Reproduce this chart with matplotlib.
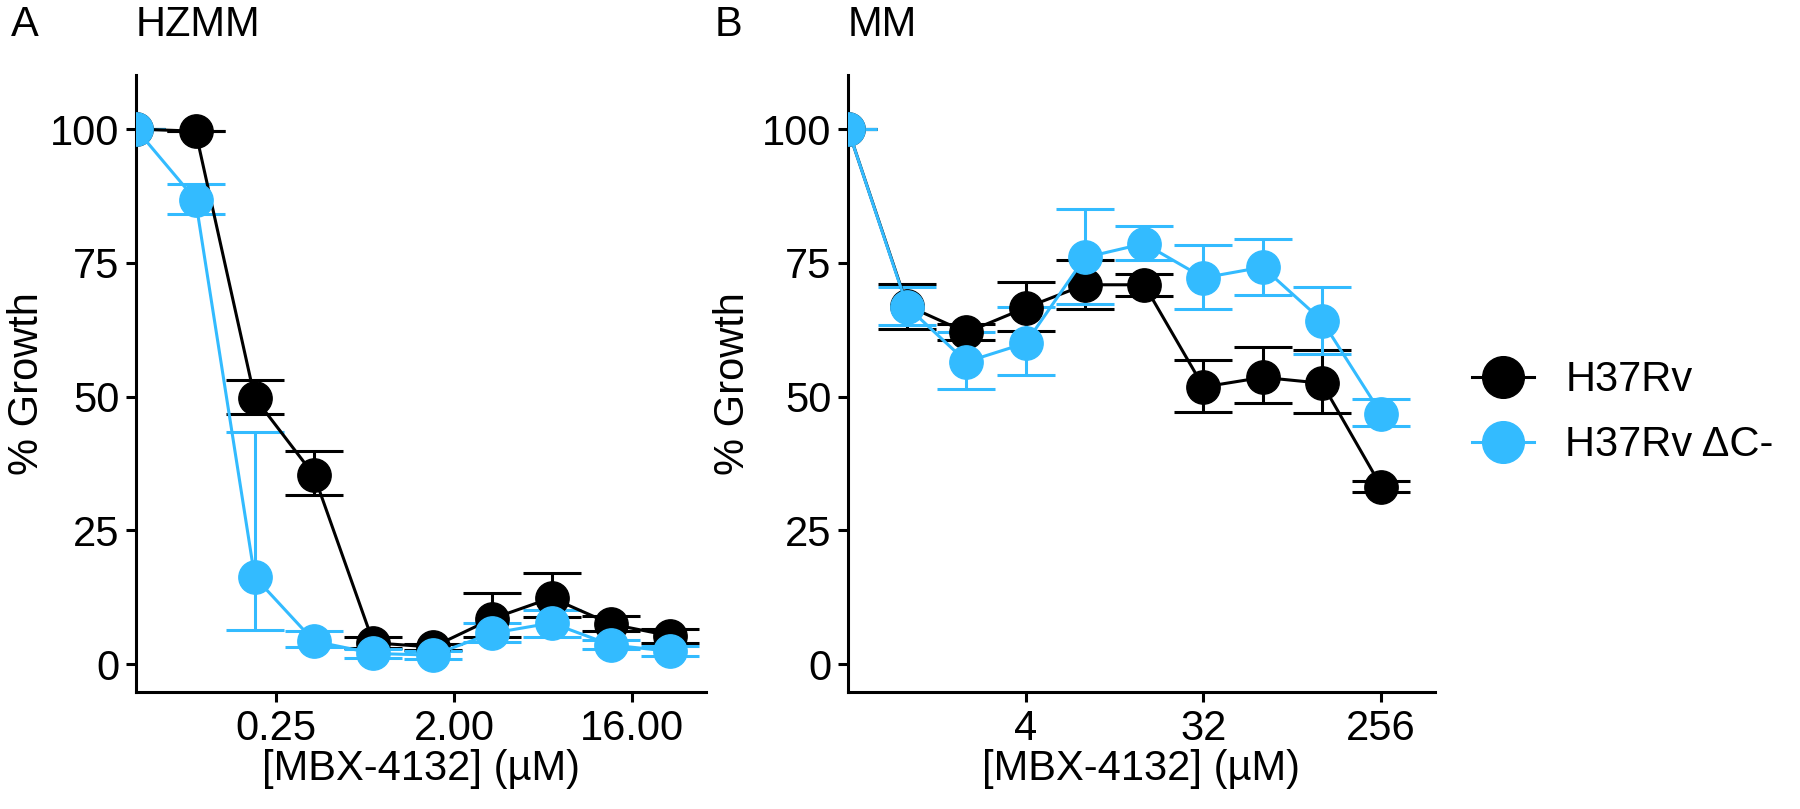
import matplotlib
matplotlib.use('Agg')
import matplotlib.pyplot as plt
from matplotlib.lines import Line2D

plt.rcParams['font.family'] = ['Liberation Sans', 'DejaVu Sans']

BLACK = '#000000'
BLUE = '#33BBFF'

# panel A, HZMM medium
doseA = [0.0488, 0.0977, 0.195, 0.39, 0.78, 1.56, 3.125, 6.25, 12.5, 25]
wtA = [100, 99.6, 49.8, 35.3, 4.0, 3.2, 8.5, 12.4, 7.5, 5.3]
wtA_lo = [100, 99.6, 46.7, 31.6, 3.0, 2.6, 5.1, 8.8, 6.2, 4.0]
wtA_hi = [100, 99.6, 53.1, 39.8, 5.0, 3.8, 13.3, 17.1, 9.0, 6.5]
dcA = [100, 86.8, 16.3, 4.3, 2.0, 1.7, 5.8, 7.7, 3.6, 2.4]
dcA_lo = [100, 84.1, 6.3, 3.2, 1.2, 1.0, 4.2, 5.1, 2.8, 1.5]
dcA_hi = [100, 89.7, 43.4, 6.2, 2.8, 2.4, 7.7, 10.1, 4.6, 3.4]

# panel B, MM medium
doseB = [0.5, 1, 2, 4, 8, 16, 32, 64, 128, 256]
wtB = [100, 67.0, 62.0, 66.6, 70.9, 70.9, 51.8, 53.6, 52.5, 33.2]
wtB_lo = [100, 62.7, 60.5, 62.2, 66.4, 68.8, 47.2, 48.8, 47.0, 32.2]
wtB_hi = [100, 71.1, 63.5, 71.4, 75.5, 73.0, 56.8, 59.2, 58.8, 34.3]
dcB = [100, 66.8, 56.5, 60.0, 76.0, 78.6, 72.2, 74.2, 64.2, 46.8]
dcB_lo = [100, 63.3, 51.5, 54.0, 67.3, 75.5, 66.3, 69.0, 58.0, 44.5]
dcB_hi = [100, 70.4, 62.0, 66.8, 85.0, 81.8, 78.3, 79.5, 70.5, 49.5]

ticksA = [0.25, 2, 16]
tlabA = ['0.25', '2.00', '16.00']
ticksB = [4, 32, 256]
tlabB = ['4', '32', '256']

strains = ['H37Rv', 'H37Rv \u0394C-']
FS = 30


def series(ax, x, m, lo, hi, col):
    yerr = [[a - b for a, b in zip(m, lo)], [b - a for a, b in zip(m, hi)]]
    ax.errorbar(x, m, yerr=yerr, fmt='none', ecolor=col, elinewidth=2.2,
                capsize=21, capthick=2.2, zorder=2)
    ax.plot(x, m, color=col, lw=2.2, marker='o', ms=24, mec=col, mfc=col,
            zorder=3)


def style(ax, xlim, ticks, tlab, letter, title, letter_x, ylab_x):
    ax.set_xscale('log', base=2)
    ax.set_xlim(*xlim)
    ax.set_ylim(-5.2, 110.1)
    ax.set_xticks(ticks)
    ax.set_xticklabels(tlab)
    ax.minorticks_off()
    ax.set_yticks([0, 25, 50, 75, 100])
    for s in ['top', 'right']:
        ax.spines[s].set_visible(False)
    for s in ['left', 'bottom']:
        ax.spines[s].set_linewidth(2.2)
    ax.tick_params(labelsize=FS, width=2.2, length=7, colors='black', pad=5)
    ax.set_xlabel('[MBX-4132] (\u00b5M)', fontsize=FS, labelpad=0)
    ax.set_ylabel('% Growth', fontsize=FS)
    ax.yaxis.set_label_coords(ylab_x, 0.5)
    ax.text(letter_x, 1.081, letter, transform=ax.transAxes, fontsize=FS,
            va='center', ha='left')
    ax.text(0.0, 1.081, title, transform=ax.transAxes, fontsize=FS,
            va='center', ha='left')


fig = plt.figure(figsize=(18, 8.09), dpi=100)
axA = fig.add_axes([0.0756, 0.1446, 0.3167, 0.7627])
axB = fig.add_axes([0.4711, 0.1446, 0.3261, 0.7627])

series(axA, doseA, wtA, wtA_lo, wtA_hi, BLACK)
series(axA, doseA, dcA, dcA_lo, dcA_hi, BLUE)
style(axA, (0.0488, 38), ticksA, tlabA, 'A', 'HZMM', -0.219, -0.156)

series(axB, doseB, wtB, wtB_lo, wtB_hi, BLACK)
series(axB, doseB, dcB, dcB_lo, dcB_hi, BLUE)
style(axB, (0.5, 480), ticksB, tlabB, 'B', 'MM', -0.228, -0.162)

handles = [Line2D([], [], color=c, lw=2.2, marker='o', ms=30, mfc=c, mec=c)
           for c in [BLACK, BLUE]]
fig.legend(handles, strains, loc='center left', bbox_to_anchor=(0.797, 0.4895),
           frameon=False, fontsize=FS, handlelength=1.49, handletextpad=0.75,
           labelspacing=0.6)

fig.savefig('out.png', dpi=100)
